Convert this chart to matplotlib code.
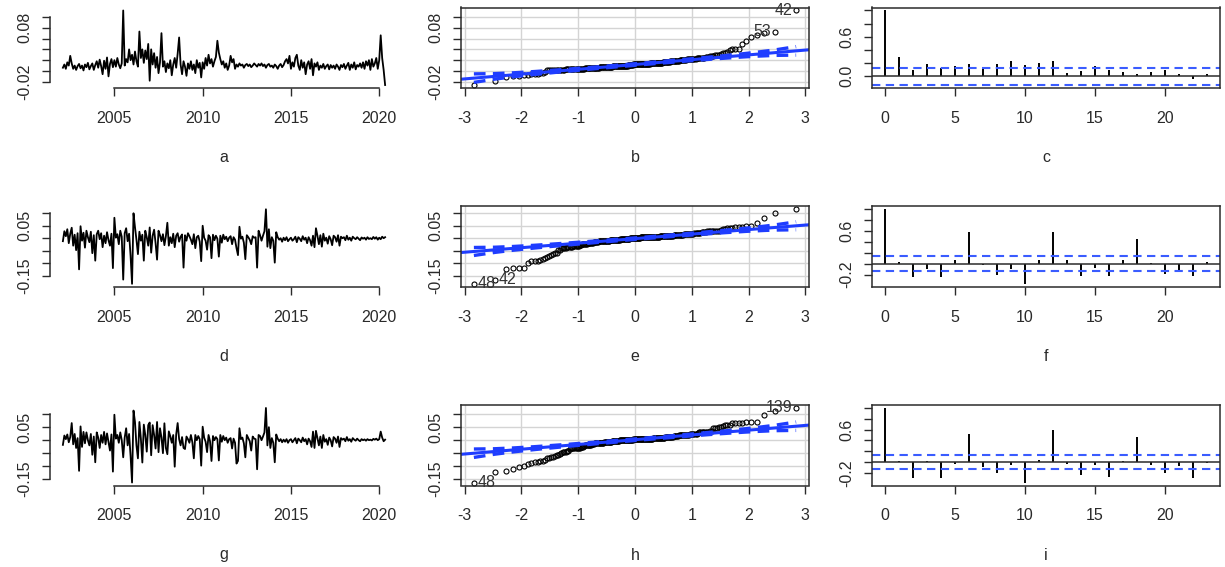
import matplotlib
matplotlib.use("Agg")
import matplotlib.pyplot as plt
import numpy as np
from statistics import NormalDist

plt.rcParams['font.family'] = ['Liberation Sans', 'DejaVu Sans']

# Monthly returns, Feb 2002 - May 2020 (one row per year)
first_year = 2002
first_month = 2

ret_a = [
    0.006, 0.012, 0.004, 0.016, 0.010, 0.028, 0.014, 0.004, 0.010, 0.002, 0.009,
    0.013, 0.005, 0.010, 0.001, 0.012, 0.007, 0.015, 0.003, 0.009, 0.014, 0.002, 0.011,
    0.018, 0.006, 0.021, 0.009, -0.006, 0.019, 0.004, 0.025, -0.010, 0.013, 0.022, 0.007,
    0.020, 0.008, 0.024, 0.012, 0.005, 0.014, 0.112, 0.010, 0.022, 0.016, 0.040, 0.020,
    0.030, 0.012, 0.036, 0.018, 0.008, 0.073, 0.024, 0.040, 0.015, 0.038, 0.022, 0.050,
    -0.018, 0.040, 0.012, 0.033, 0.006, 0.026, -0.004, 0.016, 0.070, 0.008, 0.018, -0.002,
    0.014, 0.005, 0.020, -0.008, 0.012, 0.024, 0.006, 0.032, 0.062, 0.012, -0.006, 0.018,
    0.008, -0.009, 0.014, 0.004, 0.018, 0.002, 0.012, -0.004, 0.020, 0.006, 0.015, -0.012,
    0.016, 0.004, 0.024, 0.010, 0.030, 0.014, 0.022, 0.008, 0.018, 0.026, 0.056, 0.034,
    0.022, 0.012, 0.018, 0.006, 0.014, 0.002, 0.010, 0.028, 0.016, 0.022, 0.004, 0.012,
    0.008, 0.014, 0.010, 0.012, 0.006, 0.011, 0.013, 0.009, 0.012, 0.007, 0.010, 0.014,
    0.011, 0.008, 0.013, 0.010, 0.014, 0.009, 0.012, 0.006, 0.011, 0.013, 0.008, 0.010,
    0.006, 0.012, 0.009, 0.004, 0.010, 0.013, 0.007, 0.011, 0.018, 0.022, 0.014, 0.028,
    0.004, 0.016, 0.008, 0.024, 0.030, 0.010, 0.002, 0.020, 0.006, 0.016, -0.006, 0.012,
    0.018, 0.004, 0.022, -0.008, 0.014, 0.008, 0.016, 0.002, 0.010, 0.006, 0.013, 0.004,
    0.009, 0.012, 0.003, 0.011, 0.006, 0.010, 0.004, 0.012, 0.008, 0.002, 0.011, 0.007,
    0.013, 0.004, 0.010, 0.015, 0.002, 0.012, 0.006, 0.016, 0.003, 0.011, 0.008, 0.014,
    0.006, 0.016, 0.004, 0.018, 0.010, 0.020, 0.002, 0.022, 0.008, 0.014, 0.024, 0.004,
    0.020, 0.066, 0.024, 0.002, -0.026,
]

ret_d = [
    -0.012, 0.028, 0.008, 0.036, -0.020, 0.018, 0.042, -0.030, 0.014, -0.048, 0.020,
    -0.125, 0.048, -0.010, 0.022, -0.038, 0.030, 0.004, -0.016, 0.026, -0.060, 0.012, -0.090,
    0.016, 0.030, -0.004, 0.020, -0.036, 0.010, -0.020, 0.024, -0.008, -0.030, 0.018, -0.120,
    0.082, 0.002, 0.016, -0.024, 0.030, 0.006, -0.166, 0.020, 0.040, -0.012, 0.018, -0.070,
    -0.183, 0.100, 0.044, -0.006, -0.064, 0.026, -0.010, 0.014, -0.090, 0.030, 0.004, -0.030,
    0.043, -0.058, 0.010, 0.034, -0.020, -0.086, 0.030, 0.012, -0.012, 0.016, -0.028, 0.008,
    0.062, -0.030, 0.004, -0.020, 0.018, -0.036, 0.010, 0.020, -0.014, 0.006, 0.015, -0.118,
    0.012, -0.010, 0.020, 0.008, -0.006, -0.024, 0.016, -0.040, 0.004, 0.010, -0.014, -0.092,
    0.050, 0.002, -0.010, -0.046, 0.012, 0.004, -0.080, 0.014, -0.008, 0.010, -0.002, -0.074,
    0.010, -0.018, 0.014, -0.004, 0.006, -0.012, 0.002, 0.008, -0.024, 0.004, -0.006, -0.040,
    -0.068, 0.046, -0.002, 0.006, -0.018, -0.084, 0.012, 0.004, -0.006, -0.024, 0.008, 0.002,
    0.004, -0.118, 0.030, 0.012, -0.010, 0.010, 0.028, 0.116, -0.034, 0.036, -0.040, 0.004,
    -0.010, -0.098, 0.024, 0.004, -0.006, 0.000, -0.014, 0.002, -0.008, 0.004, -0.012, -0.004,
    0.002, -0.010, -0.004, 0.006, -0.016, 0.004, -0.002, -0.012, 0.008, -0.006, 0.002, -0.020,
    0.004, -0.008, -0.030, 0.010, -0.036, 0.040, 0.010, -0.024, 0.012, -0.034, 0.018, -0.010,
    0.002, -0.022, 0.008, -0.004, -0.028, 0.010, 0.004, -0.014, 0.012, -0.030, 0.006, 0.000,
    0.004, -0.008, 0.010, -0.006, 0.002, -0.010, 0.006, 0.000, -0.004, 0.004, -0.002, -0.008,
    0.003, -0.002, 0.002, -0.006, 0.004, -0.003, 0.000, -0.004, 0.005, -0.002, 0.004, -0.006,
    0.002, -0.004, 0.006, 0.000, 0.004,
]

ret_g = [
    -0.018, 0.018, 0.004, 0.022, -0.008, 0.012, 0.066, -0.016, 0.024, -0.030, 0.008,
    -0.118, 0.053, -0.026, 0.032, -0.012, 0.030, 0.000, -0.020, 0.024, -0.056, 0.014, -0.085,
    0.030, 0.010, -0.030, 0.020, -0.010, 0.032, -0.016, 0.026, -0.006, -0.040, 0.022, -0.121,
    0.098, 0.006, 0.020, -0.010, 0.030, 0.000, -0.066, 0.010, 0.046, -0.020, 0.024, -0.060,
    -0.163, 0.114, 0.070, -0.020, -0.070, 0.070, 0.006, -0.086, 0.060, 0.020, -0.044, 0.058,
    0.068, -0.058, 0.058, 0.020, -0.032, 0.070, -0.046, 0.046, 0.010, -0.050, 0.065, -0.030,
    -0.054, 0.034, 0.015, -0.010, 0.020, -0.102, 0.022, 0.066, 0.004, -0.020, 0.012, -0.030,
    -0.034, 0.014, 0.004, -0.010, 0.020, -0.008, -0.070, 0.020, 0.000, 0.016, 0.004, -0.098,
    0.052, 0.010, -0.006, -0.046, 0.020, -0.004, -0.080, 0.016, 0.000, 0.012, 0.004, -0.078,
    0.020, -0.006, 0.016, 0.000, 0.010, -0.010, 0.004, 0.008, -0.032, 0.006, -0.010, -0.090,
    -0.080, 0.046, 0.004, 0.010, -0.012, -0.066, 0.020, 0.008, -0.004, -0.040, 0.014, 0.006,
    0.004, -0.112, 0.020, 0.016, 0.000, 0.014, 0.030, 0.124, -0.020, 0.050, -0.030, 0.008,
    -0.010, -0.085, 0.022, 0.006, -0.004, 0.004, -0.008, 0.002, -0.006, 0.004, -0.010, 0.000,
    0.004, -0.008, 0.000, 0.008, -0.012, 0.006, 0.000, -0.008, 0.010, -0.004, 0.004, -0.016,
    0.006, -0.004, -0.026, 0.033, -0.030, 0.036, 0.008, -0.020, 0.014, -0.030, 0.020, -0.006,
    0.004, -0.018, 0.010, 0.000, -0.024, 0.012, 0.006, -0.010, 0.014, -0.026, 0.008, 0.002,
    0.006, -0.004, 0.012, -0.002, 0.004, -0.006, 0.008, 0.002, -0.002, 0.006, 0.000, -0.004,
    0.004, 0.000, 0.003, -0.002, 0.004, 0.000, 0.002, -0.001, 0.005, 0.002, 0.006, 0.000,
    0.004, 0.033, 0.010, -0.004, 0.002,
]

# sample autocorrelations, lags 0..23
acf_c = [1.0, 0.30, 0.10, 0.19, 0.13, 0.15, 0.19, 0.14, 0.18, 0.23, 0.17, 0.20,
         0.23, 0.05, 0.08, 0.15, 0.09, 0.07, 0.04, 0.06, 0.10, 0.04, -0.04, 0.03]
acf_f = [1.0, 0.03, -0.25, -0.09, -0.25, 0.07, 0.58, -0.02, -0.20, -0.09, -0.37, 0.07,
         0.59, 0.06, -0.22, -0.08, -0.22, 0.06, 0.46, 0.02, -0.19, -0.12, -0.22, 0.03]
acf_i = [1.0, 0.01, -0.29, 0.01, -0.30, -0.035, 0.51, -0.10, -0.21, -0.06, -0.38, 0.04,
         0.60, -0.035, -0.24, -0.06, -0.27, 0.01, 0.46, -0.06, -0.21, -0.08, -0.30, -0.02]

panel_names = ['a', 'b', 'c', 'd', 'e', 'f', 'g', 'h', 'i']

ts_xticks = [2005, 2010, 2015, 2020]
qq_xticks = [-3, -2, -1, 0, 1, 2, 3]
acf_xticks = [0, 5, 10, 15, 20]

yticks_a = [-0.02, 0.0, 0.02, 0.04, 0.06, 0.08, 0.10]
ylabels_a = ['-0.02', '', '', '', '', '0.08', '']
yticks_dg = [-0.15, -0.10, -0.05, 0.0, 0.05, 0.10]
ylabels_dg = ['-0.15', '', '', '', '0.05', '']
yticks_c = [0.0, 0.2, 0.4, 0.6, 0.8, 1.0]
ylabels_c = ['0.0', '', '', '0.6', '', '']
yticks_fi = [-0.2, 0.0, 0.2, 0.4, 0.6, 0.8, 1.0]
ylabels_fi = ['-0.2', '', '', '', '0.6', '', '']

INK = '#2b2b2b'
TXT = '#2a2a2a'
BLUE = '#1f3dff'
FS = 11.5

W, H = 1225, 567
col_left = [50, 461, 872]
row_top = [7.5, 206.3, 405]
box_w, box_h = 348, 80.5

fig = plt.figure(figsize=(W / 100, H / 100), dpi=100)


def r_range(lo, hi):
    # R pads the data range by 4% on each side
    pad = 0.04 * (hi - lo)
    return lo - pad, hi + pad


def panel(row, col):
    l, t = col_left[col], row_top[row]
    return fig.add_axes([l / W, 1 - (t + box_h) / H, box_w / W, box_h / H])


def style_axes(ax, xticks, yticks, ylabels, name):
    ax.set_xticks(xticks)
    ax.set_xticklabels([str(v) for v in xticks])
    ax.set_yticks(yticks)
    ax.set_yticklabels(ylabels, rotation=90, va='center')
    ax.tick_params(direction='out', length=5.5, width=1, color=INK,
                   labelcolor=TXT, labelsize=FS)
    ax.tick_params(axis='x', pad=11)
    ax.tick_params(axis='y', pad=7.5)
    ax.set_xlabel(name, fontsize=FS, color=TXT, va='center')
    ax.xaxis.set_label_coords(0.5, -69.5 / box_h)
    for s in ax.spines.values():
        s.set_color(INK)
        s.set_linewidth(1.1)


def plot_series(ax, y, yticks, ylabels, name):
    y = np.asarray(y)
    t = first_year + (first_month - 1) / 12 + np.arange(len(y)) / 12
    ax.plot(t, y, color='black', linewidth=1.3)
    ax.set_xlim(*r_range(t.min(), t.max()))
    ax.set_ylim(*r_range(y.min(), y.max()))
    style_axes(ax, ts_xticks, yticks, ylabels, name)
    ax.spines['top'].set_visible(False)
    ax.spines['right'].set_visible(False)
    ax.spines['left'].set_bounds(yticks[0], yticks[-1])
    ax.spines['bottom'].set_bounds(ts_xticks[0], ts_xticks[-1])


def plot_qq(ax, y, yticks, ylabels, name):
    y = np.asarray(y)
    n = len(y)
    nd = NormalDist()
    order = np.argsort(y, kind='stable')
    ys = y[order]
    p = (np.arange(1, n + 1) - 0.5) / n
    z = np.array([nd.inv_cdf(v) for v in p])

    # reference line through the quartiles, with a 95% pointwise envelope
    qx = np.quantile(ys, [0.25, 0.75])
    qz = np.array([nd.inv_cdf(0.25), nd.inv_cdf(0.75)])
    b = (qx[1] - qx[0]) / (qz[1] - qz[0])
    a = qx[0] - b * qz[0]
    dens = np.array([nd.pdf(v) for v in z])
    se = (b / dens) * np.sqrt(p * (1 - p) / n)
    fit = a + b * z
    zz = nd.inv_cdf(0.975)

    ax.grid(True, color='#d4d4d4', linewidth=1.0)
    ax.set_axisbelow(True)
    ax.plot(z, ys, linestyle='none', marker='o', markersize=3.6,
            markerfacecolor='none', markeredgecolor='black', markeredgewidth=0.8)
    ax.axline((0, a), slope=b, color=BLUE, linewidth=2.2)
    ax.plot(z, fit + zz * se, color=BLUE, linewidth=2.4, dashes=(3.5, 2.2))
    ax.plot(z, fit - zz * se, color=BLUE, linewidth=2.4, dashes=(3.5, 2.2))

    # label the two most extreme observations by their index
    mid = 0.5 * (z.min() + z.max())
    far = np.argsort(-np.abs(y - y.mean()), kind='stable')[:2]
    for idx in far:
        k = int(np.where(order == idx)[0][0])
        left = z[k] > mid
        ax.annotate(str(idx + 1), (z[k], ys[k]),
                    xytext=(-2.5 if left else 2.5, 0), textcoords='offset points',
                    ha='right' if left else 'left', va='center',
                    fontsize=FS, color='#333333')

    ax.set_xlim(*r_range(z.min(), z.max()))
    ax.set_ylim(*r_range(ys.min(), ys.max()))
    style_axes(ax, qq_xticks, yticks, ylabels, name)


def plot_acf(ax, r, n_obs, yticks, ylabels, name):
    r = np.asarray(r)
    lags = np.arange(len(r))
    clim = NormalDist().inv_cdf(0.975) / np.sqrt(n_obs)
    ax.vlines(lags, 0, r, color='black', linewidth=1.4)
    ax.axhline(0, color=INK, linewidth=1.1)
    for c in (clim, -clim):
        ax.axhline(c, color='#3a5cff', linewidth=1.5, dashes=(4, 2.6))
    ax.set_xlim(*r_range(lags.min(), lags.max()))
    ax.set_ylim(*r_range(min(r.min(), -clim), max(r.max(), clim)))
    style_axes(ax, acf_xticks, yticks, ylabels, name)


rows = [
    (ret_a, acf_c, yticks_a, ylabels_a, yticks_c, ylabels_c),
    (ret_d, acf_f, yticks_dg, ylabels_dg, yticks_fi, ylabels_fi),
    (ret_g, acf_i, yticks_dg, ylabels_dg, yticks_fi, ylabels_fi),
]

for i, (series, acf, yt, yl, yt_acf, yl_acf) in enumerate(rows):
    plot_series(panel(i, 0), series, yt, yl, panel_names[3 * i])
    plot_qq(panel(i, 1), series, yt, yl, panel_names[3 * i + 1])
    plot_acf(panel(i, 2), acf, len(series), yt_acf, yl_acf, panel_names[3 * i + 2])

fig.savefig('out.png', dpi=100)
